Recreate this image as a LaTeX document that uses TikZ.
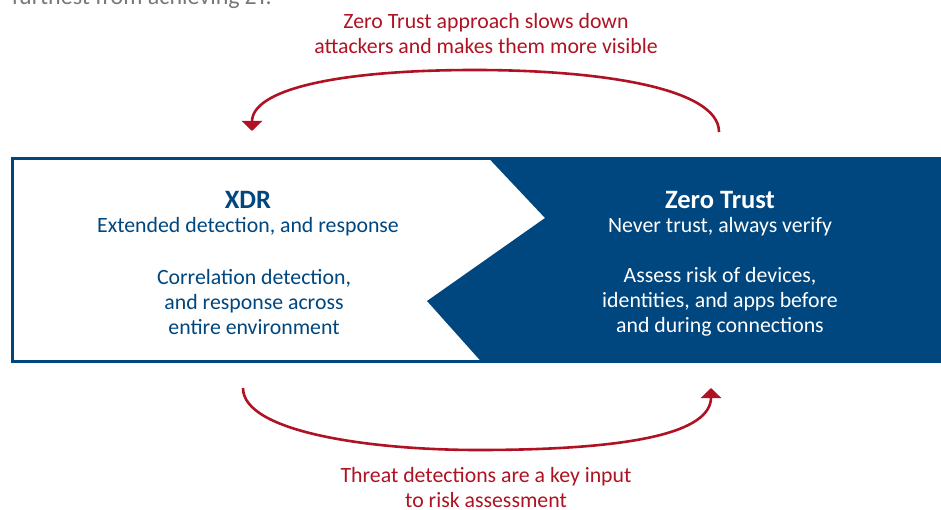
\documentclass[tikz,border=0pt]{standalone}
\usepackage{fontspec}
\setmainfont{Carlito}
\usetikzlibrary{arrows.meta,positioning,calc}
\definecolor{ZTblue}{RGB}{0,71,127}
\definecolor{ZTred}{RGB}{175,18,34}
\definecolor{ZTgray}{RGB}{120,120,120}
\tikzstyle{ttl}  = [font=\fontsize{26.5}{30}\selectfont\bfseries, align=center]
\tikzstyle{txt}  = [font=\fontsize{21.8}{25}\selectfont, align=center]
\tikzstyle{loop} = [draw=ZTred, line width=2.6pt, -{Triangle[width=20pt,length=10pt]}]

\begin{document}
\begin{tikzpicture}[x=1pt, y=-1pt]
  \useasboundingbox (0,0) rectangle (941,510);
  % cut off line of the page above
  \node[anchor=base east, text=ZTgray, font=\fontsize{24}{28}\selectfont, inner sep=0pt]
    (prev) at (272,5) {furthest from achieving ZT.};

  % the two halves
  \draw[ZTblue, line width=3pt, fill=white] (12,159) rectangle (960,361);
  \fill[ZTblue] (488,157.5) -- (545,218) -- (427,301) -- (482,362.5)
               -- (960,362.5) -- (960,157.5) -- cycle;

  \node[ttl, text=ZTblue] (xdr)   at (248,200) {XDR};
  \node[txt, text=ZTblue] (xdrS)  at (248,227) {Extended detection, and response};
  \node[txt, text=ZTblue] (xdrB)  at (254,302) {Correlation detection,\\and response across\\entire environment};
  \node[ttl, text=white]  (zt)    at (720,200) {Zero Trust};
  \node[txt, text=white]  (ztS)   at (720,227) {Never trust, always verify};
  \node[txt, text=white]  (ztB)   at (720,302) {Assess risk of devices,\\identities, and apps before\\and during connections};

  % feedback arrows
  \coordinate (ztTop)  at (719,132);
  \coordinate (xdrTop) at (252,131);
  \coordinate (xdrBot) at (243,388);
  \coordinate (ztBot)  at (711,388);

  \draw[loop] (ztTop) .. controls (719,88) and (600,70) .. (475,70)
              .. controls (335,70) and (252,90) .. (xdrTop);
  \draw[loop] (xdrBot) .. controls (243,432) and (370,450) .. (478,450)
              .. controls (635,450) and (711,432) .. (ztBot);

  \node[txt, text=ZTred] (topLbl) at (486,34) {Zero Trust approach slows down\\attackers and makes them more visible};
  \node[txt, text=ZTred, inner sep=0pt] (botLbl) at (486,488) {Threat detections are a key input\\to risk assessment};
\end{tikzpicture}
\end{document}
